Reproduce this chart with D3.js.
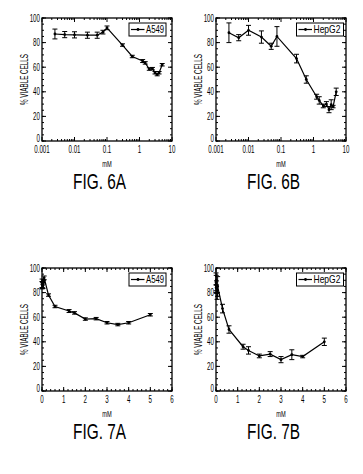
<!DOCTYPE html>
<html>
<head>
<meta charset="utf-8">
<script src="https://cdn.jsdelivr.net/npm/d3@7"></script>
<style>
  body { margin: 0; background: #fff; }
  svg { display: block; }
  text { font-family: "Liberation Sans", Arial, sans-serif; fill: #000; }
</style>
</head>
<body>
<svg id="chart" width="363" height="474"></svg>
<script>
// data (mM concentration vs % viable cells)
var concA549   = [0.0025, 0.005, 0.01, 0.025, 0.05, 0.075, 0.1, 0.3, 0.6, 1.25, 1.5, 2, 2.5, 3, 3.5, 4, 5];
var viableA549 = [87, 86.5, 86.3, 86, 86, 88.5, 92, 78, 68.7, 65, 63.5, 58.5, 58.8, 55.5, 54, 55.5, 62];
var errA549    = [4, 2.5, 2.5, 2.5, 2.5, 1.5, 1.5, 1, 1, 1.2, 1, 1, 1, 1, 1, 1, 1];

var concHepG2   = [0.0025, 0.005, 0.01, 0.025, 0.05, 0.075, 0.3, 0.6, 1.25, 1.5, 2, 2.5, 3, 3.5, 4, 5];
var viableHepG2 = [88, 84, 90, 84.5, 77, 85, 67, 50, 36, 33, 28.5, 30, 25.5, 29.5, 28, 40];
var errHepG2    = [8, 2.5, 4, 5, 2.5, 8, 3.5, 3, 2, 3, 1.5, 2, 2.5, 4, 1, 3];

var yTicks = [0, 20, 40, 60, 80, 100];
var logTicks = [0.001, 0.01, 0.1, 1, 10];
var logTickLabels = ["0.001", "0.01", "0.1", "1", "10"];
var linTicks = [0, 1, 2, 3, 4, 5, 6];

var panels = [
  {fig: "FIG. 6A", name: "A549",  x: concA549,  y: viableA549,  e: errA549,  log: true,  left: 42,  top: 18},
  {fig: "FIG. 6B", name: "HepG2", x: concHepG2, y: viableHepG2, e: errHepG2, log: true,  left: 216, top: 18},
  {fig: "FIG. 7A", name: "A549",  x: concA549,  y: viableA549,  e: errA549,  log: false, left: 42,  top: 268},
  {fig: "FIG. 7B", name: "HepG2", x: concHepG2, y: viableHepG2, e: errHepG2, log: false, left: 216, top: 268}
];

var w = 130, h = 123;
var svg = d3.select("#chart");

// narrow text: draw normal font squeezed horizontally
function label(g, x, y, txt, size, sx, anchor, rot) {
  return g.append("text")
    .attr("transform", "translate(" + x + "," + y + ")" + (rot ? " rotate(" + rot + ")" : "") + " scale(" + sx + ",1)")
    .attr("text-anchor", anchor || "start")
    .style("font-size", size + "px")
    .text(txt);
}

panels.forEach(function(p) {
  var g = svg.append("g").attr("transform", "translate(" + p.left + "," + p.top + ")");

  var xs = p.log
    ? d3.scaleLog().domain([0.001, 10]).range([0, w])
    : d3.scaleLinear().domain([0, 6]).range([0, w]);
  var ys = d3.scaleLinear().domain([0, 100]).range([h, 0]);

  // minor tick values
  var xMinor = [];
  if (p.log) {
    logTicks.slice(0, -1).forEach(function(t) {
      for (var k = 2; k <= 9; k++) xMinor.push(t * k);
    });
  } else {
    for (var v = 0; v <= 6.001; v += 0.2) xMinor.push(+v.toFixed(1));
  }
  var yMinor = d3.range(0, 101, 5);

  // inward ticks on all four sides
  function xt(vals, len) {
    vals.forEach(function(t) {
      var xx = xs(t);
      g.append("line").attr("x1", xx).attr("x2", xx).attr("y1", h).attr("y2", h - len).attr("stroke", "#000");
      g.append("line").attr("x1", xx).attr("x2", xx).attr("y1", 0).attr("y2", len).attr("stroke", "#000");
    });
  }
  xt(xMinor, 2);
  xt(p.log ? logTicks : linTicks, 4);
  function yt(vals, len) {
    vals.forEach(function(t) {
      var yy = ys(t);
      g.append("line").attr("x1", 0).attr("x2", len).attr("y1", yy).attr("y2", yy).attr("stroke", "#000");
      g.append("line").attr("x1", w).attr("x2", w - len).attr("y1", yy).attr("y2", yy).attr("stroke", "#000");
    });
  }
  yt(yMinor, 2);
  yt(yTicks, 4);

  // frame
  g.append("rect").attr("width", w).attr("height", h)
    .attr("fill", "none").attr("stroke", "#000").attr("stroke-width", 1.3);

  // tick labels
  yTicks.forEach(function(d) {
    label(g, -2, ys(d) + (d === 0 ? 0.5 : 3.5), d, 10, 0.62, "end");
  });
  (p.log ? logTicks : linTicks).forEach(function(d, i) {
    label(g, xs(d), h + 12, p.log ? logTickLabels[i] : d, 10, 0.62, "middle");
  });

  // axis titles
  label(g, w / 2, h + 25.5, "mM", 9.5, 0.6, "middle");
  label(g, -14, h / 2, "% VIABLE CELLS", 10.5, 0.6, "middle", -90);

  // figure caption
  label(g, 57.5, h + 48, p.fig, 22, 0.7, "middle");

  var pts = p.x.map(function(d, i) { return {x: d, y: p.y[i], e: p.e[i]}; });

  // error bars
  var eb = g.append("g").attr("stroke", "#000").attr("stroke-width", 1);
  pts.forEach(function(d) {
    var cx = xs(d.x);
    eb.append("line").attr("x1", cx).attr("x2", cx).attr("y1", ys(d.y - d.e)).attr("y2", ys(d.y + d.e));
    eb.append("line").attr("x1", cx - 2.5).attr("x2", cx + 2.5).attr("y1", ys(d.y - d.e)).attr("y2", ys(d.y - d.e));
    eb.append("line").attr("x1", cx - 2.5).attr("x2", cx + 2.5).attr("y1", ys(d.y + d.e)).attr("y2", ys(d.y + d.e));
  });

  // line + markers
  g.append("path").datum(pts)
    .attr("fill", "none").attr("stroke", "#000").attr("stroke-width", 1.2)
    .attr("d", d3.line().x(function(d) { return xs(d.x); }).y(function(d) { return ys(d.y); }));
  g.selectAll(".pt").data(pts).enter().append("circle")
    .attr("cx", function(d) { return xs(d.x); })
    .attr("cy", function(d) { return ys(d.y); })
    .attr("r", 1.4).attr("fill", "#000");

  // legend
  var lw = p.name === "HepG2" ? 47 : 37;
  var lm = p.name === "HepG2" ? 2.5 : 6;
  var lg = g.append("g").attr("transform", "translate(" + (w - lw - lm) + ",5)");
  lg.append("rect").attr("width", lw).attr("height", 13)
    .attr("fill", "#fff").attr("stroke", "#000").attr("stroke-width", 1);
  lg.append("line").attr("x1", 2).attr("x2", 15.5).attr("y1", 6.5).attr("y2", 6.5)
    .attr("stroke", "#000").attr("stroke-width", 1.2);
  lg.append("circle").attr("cx", 9).attr("cy", 6.5).attr("r", 1.4).attr("fill", "#000");
  label(lg, 17, 10.3, p.name, 10, p.name === "HepG2" ? 0.85 : 0.78, "start");
});
</script>
</body>
</html>
